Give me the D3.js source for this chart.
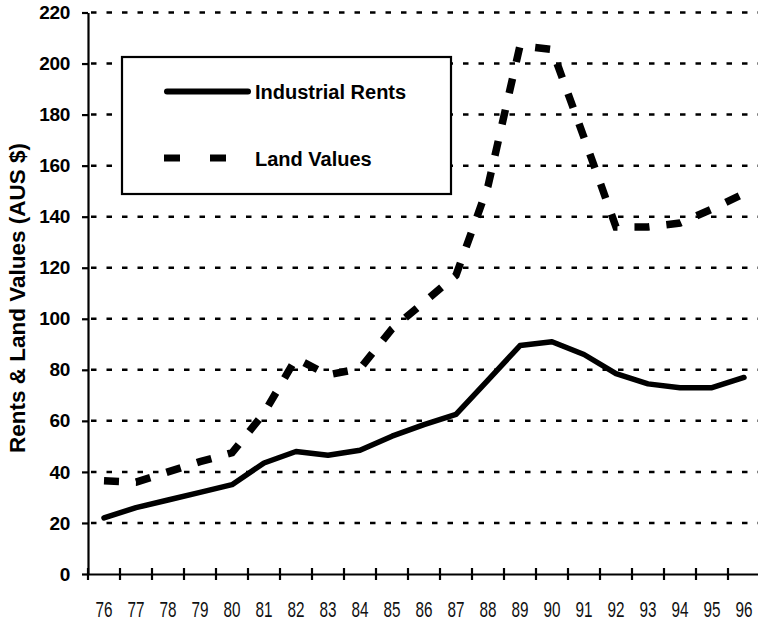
<!DOCTYPE html>
<html>
<head>
<meta charset="utf-8">
<script src="https://cdn.jsdelivr.net/npm/d3@7"></script>
<style>
  body { margin: 0; background: #fff; }
  svg { display: block; font-family: "Liberation Sans", Arial, sans-serif; }
</style>
</head>
<body>
<svg width="758" height="622"></svg>
<script>
// chart data
const years = ["76", "77", "78", "79", "80", "81", "82", "83", "84", "85", "86",
  "87", "88", "89", "90", "91", "92", "93", "94", "95", "96"];
const rents = [22, 26, 29, 32, 35, 43.5, 48, 46.5, 48.5, 54, 58.5, 62.5, 76,
  89.5, 91, 86, 78.5, 74.5, 73, 73, 77];
const landValues = [36.5, 36, 40, 44, 47.5, 63, 84.5, 78, 80.5, 96, 106.5, 117,
  152, 207, 205.5, 171, 136, 136, 137.5, 143, 149];
const yTicks = [0, 20, 40, 60, 80, 100, 120, 140, 160, 180, 200, 220];
const seriesNames = ["Industrial Rents", "Land Values"];

const svg = d3.select("svg"),
  width = +svg.attr("width"),
  plotLeft = 88,
  plotTop = 12.5,
  plotBottom = 574;

const x = d3.scaleBand().domain(years).range([plotLeft, plotLeft + years.length * 32]);
const y = d3.scaleLinear().domain([0, 220]).range([plotBottom, plotTop]);
const cx = (d) => x(d) + x.bandwidth() / 2;

//gridlines
svg.append("g")
  .selectAll("line")
  .data(yTicks.filter((d) => d > 0))
  .join("line")
  .attr("x1", plotLeft)
  .attr("x2", width)
  .attr("y1", (d) => y(d))
  .attr("y2", (d) => y(d))
  .attr("stroke", "#000")
  .attr("stroke-width", 2.5)
  .attr("stroke-dasharray", "5.5,10")
  .attr("stroke-dashoffset", -3);

//y axis
const yAxis = svg.append("g")
  .attr("transform", `translate(${plotLeft},0)`)
  .call(d3.axisLeft(y).tickValues(yTicks).tickSize(6).tickPadding(12).tickSizeOuter(0));
yAxis.select(".domain").attr("stroke-width", 2.2);
yAxis.selectAll(".tick line").attr("stroke-width", 2.2);
yAxis.selectAll(".tick text")
  .attr("font-size", 19)
  .attr("font-weight", "bold")
  .attr("letter-spacing", -0.3)
  .attr("font-family", "Liberation Sans, Arial, sans-serif")
  .attr("fill", "#000");

//x axis
const xAxis = svg.append("g")
  .attr("transform", `translate(0,${plotBottom})`)
  .call(d3.axisBottom(x).tickSize(0).tickSizeOuter(0));
xAxis.select(".domain").attr("stroke-width", 2.2);
xAxis.selectAll(".tick text")
  .attr("y", 0)
  .attr("dy", null)
  .attr("transform", "translate(0,42.5) scale(1,1.5)")
  .attr("font-size", 15.3)
  .attr("font-family", "Liberation Sans, Arial, sans-serif")
  .attr("fill", "#111");
//tick marks sit on the category boundaries
xAxis.append("g")
  .selectAll("line")
  .data(years)
  .join("line")
  .attr("x1", (d) => x(d))
  .attr("x2", (d) => x(d))
  .attr("y1", -6)
  .attr("y2", 6)
  .attr("stroke", "#000")
  .attr("stroke-width", 2.2);

//y axis title
svg.append("text")
  .attr("transform", `translate(25,298) rotate(-90)`)
  .attr("text-anchor", "middle")
  .attr("font-size", 22.5)
  .attr("font-weight", "bold")
  .text("Rents & Land Values (AUS $)");

//lines
const line = d3.line().x((d) => cx(d.year)).y((d) => y(d.value));
const toPoints = (vals) => vals.map((v, i) => ({ year: years[i], value: v }));

svg.append("path")
  .datum(toPoints(landValues))
  .attr("d", line)
  .attr("fill", "none")
  .attr("stroke", "#000")
  .attr("stroke-width", 7.5)
  .attr("stroke-dasharray", "15,17");

svg.append("path")
  .datum(toPoints(rents))
  .attr("d", line)
  .attr("fill", "none")
  .attr("stroke", "#000")
  .attr("stroke-width", 5.5)
  .attr("stroke-linejoin", "round")
  .attr("stroke-linecap", "round");

//legend
const legend = svg.append("g");
legend.append("rect")
  .attr("x", 122)
  .attr("y", 57)
  .attr("width", 329)
  .attr("height", 137)
  .attr("fill", "#fff")
  .attr("stroke", "#000")
  .attr("stroke-width", 2.2);
legend.append("line")
  .attr("x1", 167).attr("x2", 248)
  .attr("y1", 91.5).attr("y2", 91.5)
  .attr("stroke", "#000")
  .attr("stroke-width", 6)
  .attr("stroke-linecap", "round");
legend.append("line")
  .attr("x1", 164).attr("x2", 248)
  .attr("y1", 158).attr("y2", 158)
  .attr("stroke", "#000")
  .attr("stroke-width", 7)
  .attr("stroke-dasharray", "16,30");
legend.selectAll("text")
  .data(seriesNames)
  .join("text")
  .attr("x", 255)
  .attr("y", (d, i) => (i === 0 ? 99 : 166))
  .attr("font-size", 20)
  .attr("font-weight", "bold")
  .text((d) => d);
</script>
</body>
</html>
